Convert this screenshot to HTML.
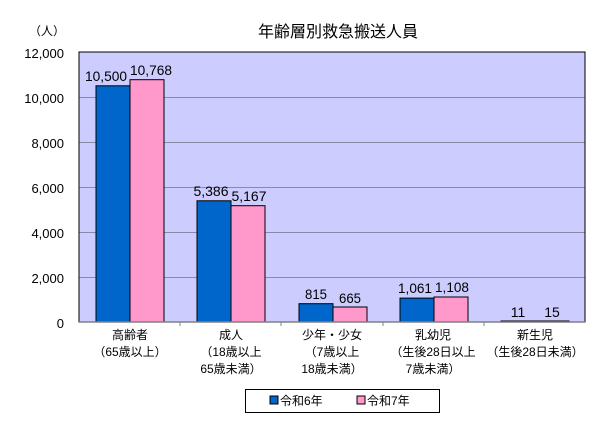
<!DOCTYPE html>
<html><head><meta charset="utf-8"><style>
html,body{margin:0;padding:0;background:#fff;}
svg text{font-family:"Liberation Sans","Noto Sans CJK JP",sans-serif;fill:#000;}
</style></head><body>
<svg width="608" height="423" viewBox="0 0 608 423" xmlns="http://www.w3.org/2000/svg">
<rect x="0" y="0" width="608" height="423" fill="#fff"/>
<text x="338" y="37" font-size="16" text-anchor="middle">年齢層別救急搬送人員</text>
<text x="47" y="35" font-size="12" text-anchor="middle">（人）</text>
<rect x="79" y="52" width="506" height="270" fill="#ccccff"/>
<g stroke="#8a8aa8" stroke-width="1">
<line x1="79" y1="97.5" x2="585" y2="97.5"/>
<line x1="79" y1="142.5" x2="585" y2="142.5"/>
<line x1="79" y1="187.5" x2="585" y2="187.5"/>
<line x1="79" y1="232.5" x2="585" y2="232.5"/>
<line x1="79" y1="277.5" x2="585" y2="277.5"/>
</g>
<g font-size="13" text-anchor="end">
<text x="64" y="58">12,000</text>
<text x="64" y="103">10,000</text>
<text x="64" y="148">8,000</text>
<text x="64" y="193">6,000</text>
<text x="64" y="238">4,000</text>
<text x="64" y="283">2,000</text>
<text x="64" y="328">0</text>
</g>
<g stroke="#000" stroke-width="1">
<rect x="96" y="85.8" width="34" height="236.2" fill="#0066cc"/>
<rect x="130" y="79.7" width="34" height="242.3" fill="#ff99cc"/>
<rect x="197" y="200.8" width="34" height="121.2" fill="#0066cc"/>
<rect x="231" y="205.7" width="34" height="116.3" fill="#ff99cc"/>
<rect x="299" y="303.7" width="34" height="18.3" fill="#0066cc"/>
<rect x="333" y="307" width="34" height="15" fill="#ff99cc"/>
<rect x="400" y="298.1" width="34" height="23.9" fill="#0066cc"/>
<rect x="434" y="297" width="34" height="25" fill="#ff99cc"/>
<rect x="501" y="321" width="34" height="1" fill="#0066cc"/>
<rect x="535" y="321" width="34" height="1" fill="#ff99cc"/>
</g>
<rect x="79" y="52" width="506" height="270" fill="none" stroke="#000" stroke-width="1"/>
<line x1="79" y1="322" x2="585" y2="322" stroke="#808080" stroke-width="1.5"/>
<g stroke="#808080"><line x1="180" y1="322" x2="180" y2="326"/><line x1="281" y1="322" x2="281" y2="326"/><line x1="383" y1="322" x2="383" y2="326"/><line x1="484" y1="322" x2="484" y2="326"/></g>
<g font-size="14" text-anchor="middle" lengthAdjust="spacingAndGlyphs">
<text x="106" y="81" textLength="42" lengthAdjust="spacingAndGlyphs">10,500</text><text x="151" y="75" textLength="42" lengthAdjust="spacingAndGlyphs">10,768</text>
<text x="211" y="196" textLength="35" lengthAdjust="spacingAndGlyphs">5,386</text><text x="249" y="201" textLength="35" lengthAdjust="spacingAndGlyphs">5,167</text>
<text x="316" y="299" textLength="22" lengthAdjust="spacingAndGlyphs">815</text><text x="350" y="303" textLength="22" lengthAdjust="spacingAndGlyphs">665</text>
<text x="415" y="293" textLength="34" lengthAdjust="spacingAndGlyphs">1,061</text><text x="452" y="292" textLength="34" lengthAdjust="spacingAndGlyphs">1,108</text>
<text x="518" y="317">11</text><text x="552" y="317">15</text>
</g>
<g font-size="12" text-anchor="middle">
<text x="130" y="339">高齢者</text><text x="130" y="356">（65歳以上）</text>
<text x="231" y="339">成人</text><text x="231" y="356">（18歳以上</text><text x="231" y="373">65歳未満）</text>
<text x="332" y="339">少年・少女</text><text x="332" y="356">（7歳以上</text><text x="332" y="373">18歳未満）</text>
<text x="433" y="339">乳幼児</text><text x="433" y="356">（生後28日以上</text><text x="433" y="373">7歳未満）</text>
<text x="535" y="339">新生児</text><text x="535" y="356">（生後28日未満）</text>
</g>
<rect x="245.5" y="389.5" width="194" height="23" fill="#fff" stroke="#000"/>
<rect x="270" y="396" width="8" height="8" fill="#0066cc" stroke="#000"/>
<text x="280" y="405" font-size="12">令和6年</text>
<rect x="357" y="396" width="8" height="8" fill="#ff99cc" stroke="#000"/>
<text x="367" y="405" font-size="12">令和7年</text>
</svg>
</body></html>
